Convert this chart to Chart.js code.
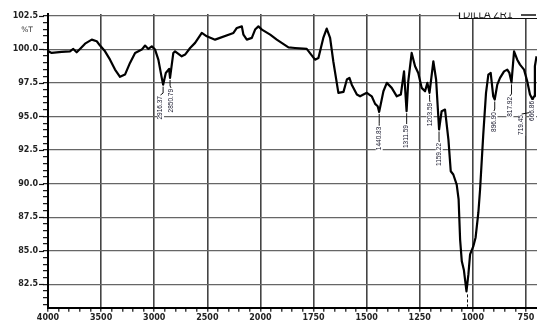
<!DOCTYPE html>
<html>
<head>
<meta charset="utf-8">
<script src="https://cdn.jsdelivr.net/npm/chart.js@4.4.0/dist/chart.umd.min.js"></script>
<style>
html,body{margin:0;padding:0;background:#fff}
#wrap{width:537px;height:322px;position:relative}
</style>
</head>
<body>
<div id="wrap"><canvas id="irChart"></canvas></div>
<script>
(function () {

// spectrum (cm-1 / %T)
const waveNumbers = [4000,3997,3965,3871,3793,3762,3730,3699,3651,3588,3541,3510,3463,3416,3369,3322,3275,3228,3180,3117,3086,3055,3023,2992,2961,2929,2916,2891,2860,2851,2820,2804,2741,2709,2662,2615,2552,2505,2427,2254,2222,2175,2160,2128,2081,2050,2019,1993,1954,1923,1868,1837,1798,1782,1743,1727,1704,1688,1672,1657,1633,1609,1593,1581,1570,1546,1531,1499,1476,1460,1448,1441,1421,1405,1382,1358,1339,1324,1312,1304,1288,1272,1257,1241,1225,1214,1204,1186,1173,1159,1147,1131,1115,1104,1092,1076,1067,1060,1052,1042,1030,1021,1013,998,987,974,966,951,938,927,916,904,897,885,872,853,838,828,818,806,791,778,759,744,731,719,712,708,700];
const transmittance = [99.9,99.85,99.73,99.81,99.85,100.03,99.78,100.03,100.42,100.72,100.60,100.28,99.85,99.23,98.49,97.95,98.12,98.99,99.73,99.98,100.28,100.03,100.22,99.98,99.23,97.87,97.37,98.24,98.54,97.87,99.73,99.85,99.48,99.61,100.10,100.48,101.22,100.97,100.72,101.22,101.59,101.71,101.09,100.72,100.85,101.47,101.71,101.47,101.09,100.72,100.15,100.10,100.05,100.03,99.23,99.36,100.85,101.54,100.85,99.11,96.76,96.83,97.75,97.87,97.37,96.63,96.50,96.76,96.50,95.94,95.76,95.34,96.88,97.50,97.13,96.50,96.63,98.36,95.39,97.62,99.73,98.74,98.24,97.13,96.88,97.50,96.76,99.11,97.75,94.03,95.39,95.51,93.28,90.92,90.68,89.93,88.82,85.84,84.21,83.54,81.97,83.24,84.73,85.32,85.99,87.85,89.56,93.65,96.76,98.12,98.24,96.50,96.26,97.37,97.87,98.36,98.49,98.24,97.54,99.85,99.23,98.86,98.49,97.62,96.63,96.26,96.50,98.74,99.48];

// picked peaks
const peakWaves = [2916.37,2850.79,1440.83,1311.59,1203.59,1159.22,896.90,817.92,719.45,666.86];
const peakText = ['2916.37','2850.79','1440.83','1311.59','1203.59','1159.22','896.90','817.92','719.45','666.86'];
const peakDepth = [97.37,97.87,95.34,95.39,96.76,94.03,96.26,97.54,96.26,96.3];
const cutPeak = 1029; // its label falls below the frame

const xTickLabels = ['4000','3500','3000','2500','2000','1750','1500','1250','1000','750'];
const yTickLabels = ['82.5','85.0','87.5','90.0','92.5','95.0','97.5','100.0','102.5'];
const seriesName = 'DILLA ZR1';

// label placement: offset from the peak x, gap below the trough
const peakLayout = [
  {dx:-2.6, gap:11.4}, {dx:1, gap:11}, {dx:0, gap:14.8}, {dx:0, gap:13.8},
  {dx:0.4, gap:10}, {dx:0.2, gap:13.5}, {dx:-0.8, gap:12.5}, {dx:-1.6, gap:14.6},
  {dx:-10.8, gap:15.5}, {dx:-11.1, gap:2, noLeader:true}
];

// the chart doubles its scale below 2000 cm-1
function toAxis(w){ return w > 2000 ? 2000 + (w - 2000) / 2 : w; }

const points = waveNumbers.map((w, i) => ({x: toAxis(w), y: transmittance[i]}));

const isMajorX = v => Math.abs(v % 250) < 1e-6;
const isMajorY = v => Math.abs(v / 2.5 - Math.round(v / 2.5)) < 1e-6;

const irLabels = {
  id: 'irLabels',
  afterDraw(chart) {
    const {ctx, chartArea, scales: {x, y}} = chart;
    ctx.save();

    // longer major ticks on the y axis
    ctx.strokeStyle = '#111';
    ctx.lineWidth = 1.2;
    yTickLabels.forEach(t => {
      const py = Math.round(y.getPixelForValue(parseFloat(t))) + 0.5;
      ctx.beginPath();
      ctx.moveTo(chartArea.left - 9, py);
      ctx.lineTo(chartArea.left - 4, py);
      ctx.stroke();
    });

    // %T
    ctx.fillStyle = '#333';
    ctx.font = '7.5px "DejaVu Sans"';
    ctx.textAlign = 'center';
    ctx.textBaseline = 'middle';
    ctx.fillText('%T', 27, y.getPixelForValue(101.4));

    // peak labels
    ctx.font = '6.5px "Liberation Sans"';
    peakWaves.forEach((w, i) => {
      const L = peakLayout[i];
      const px = x.getPixelForValue(toAxis(w));
      const py = y.getPixelForValue(peakDepth[i]);
      const cx = px + L.dx;
      const top = py + L.gap;
      const tw = ctx.measureText(peakText[i]).width;
      ctx.fillStyle = '#fff';
      ctx.fillRect(cx - 3.5, top - 1, 7, tw + 2);
      if (!L.noLeader) {
        ctx.strokeStyle = '#111';
        ctx.lineWidth = 1;
        ctx.beginPath();
        ctx.moveTo(px, py + 2);
        ctx.lineTo(px, top - 3);
        ctx.lineTo(cx, top - 1);
        ctx.stroke();
      }
      ctx.save();
      ctx.translate(cx, top);
      ctx.rotate(-Math.PI / 2);
      ctx.fillStyle = '#15152a';
      ctx.textAlign = 'right';
      ctx.textBaseline = 'middle';
      ctx.fillText(peakText[i], 0, 0);
      ctx.restore();
    });

    // leader of the main band, label cut by the frame
    const cx0 = Math.round(x.getPixelForValue(toAxis(cutPeak))) + 0.5;
    ctx.strokeStyle = '#111';
    ctx.lineWidth = 1;
    ctx.setLineDash([3, 2]);
    ctx.beginPath();
    ctx.moveTo(cx0, y.getPixelForValue(81.75));
    ctx.lineTo(cx0, chartArea.bottom - 1);
    ctx.stroke();
    ctx.setLineDash([]);

    // legend box, top edge cut off
    ctx.fillStyle = '#fff';
    ctx.fillRect(459, 0, 78, 18.5);
    ctx.beginPath();
    ctx.rect(0, 12.5, 537, 20);
    ctx.clip();
    ctx.strokeStyle = '#111';
    ctx.lineWidth = 1.2;
    ctx.beginPath();
    ctx.moveTo(459.5, 8);
    ctx.lineTo(459.5, 18.5);
    ctx.lineTo(537, 18.5);
    ctx.stroke();
    ctx.fillStyle = '#222';
    ctx.font = '10px "Liberation Sans"';
    ctx.textAlign = 'left';
    ctx.textBaseline = 'alphabetic';
    ctx.fillText(seriesName, 463, 17.6);
    ctx.lineWidth = 1.5;
    ctx.beginPath();
    ctx.moveTo(521, 15);
    ctx.lineTo(536, 15);
    ctx.stroke();

    ctx.restore();
  }
};

new Chart(document.getElementById('irChart'), {
  type: 'line',
  data: {
    datasets: [{
      label: seriesName,
      data: points,
      borderColor: '#000',
      borderWidth: 2.2,
      pointRadius: 0,
      tension: 0,
      borderJoinStyle: 'round',
      fill: false
    }]
  },
  options: {
    responsive: true,
    maintainAspectRatio: false,
    animation: false,
    devicePixelRatio: 1,
    layout: {padding: {top: 14, right: 0, left: 0, bottom: 0}},
    plugins: {legend: {display: false}, tooltip: {enabled: false}},
    scales: {
      x: {
        type: 'linear',
        reverse: true,
        min: 698,
        max: 3000,
        afterBuildTicks(scale) {
          const t = [];
          for (let v = 750; v <= 3000; v += 50) t.push({value: v});
          scale.ticks = t;
        },
        afterFit(scale) { scale.height = 14.3; },
        border: {display: true, color: '#000', width: 2},
        grid: {
          color: c => isMajorX(c.tick.value) ? '#444' : 'rgba(0,0,0,0)',
          lineWidth: 1.6,
          tickColor: '#111',
          tickWidth: 1.2,
          tickLength: 4
        },
        ticks: {
          autoSkip: false,
          maxRotation: 0,
          minRotation: 0,
          padding: 1,
          color: '#222',
          font: {family: 'DejaVu Sans', size: 8, weight: 'bold'},
          callback: v => isMajorX(v) ? xTickLabels[Math.round((3000 - v) / 250)] : ''
        }
      },
      y: {
        min: 80.76,
        max: 102.63,
        afterBuildTicks(scale) {
          const t = [];
          for (let v = 81; v <= 102.5 + 1e-6; v += 0.5) t.push({value: Math.round(v * 10) / 10});
          scale.ticks = t;
        },
        afterFit(scale) { scale.width = 48; },
        border: {display: true, color: '#000', width: 2},
        grid: {
          color: c => isMajorY(c.tick.value) ? '#666' : 'rgba(0,0,0,0)',
          lineWidth: 1.3,
          tickColor: '#111',
          tickWidth: 1.2,
          tickLength: 5
        },
        ticks: {
          autoSkip: false,
          padding: 5,
          color: '#222',
          font: {family: 'DejaVu Sans', size: 8, weight: 'bold'},
          callback: v => isMajorY(v) ? yTickLabels[Math.round((v - 82.5) / 2.5)] : ''
        }
      }
    }
  },
  plugins: [irLabels]
});

})();
</script>
</body>
</html>
